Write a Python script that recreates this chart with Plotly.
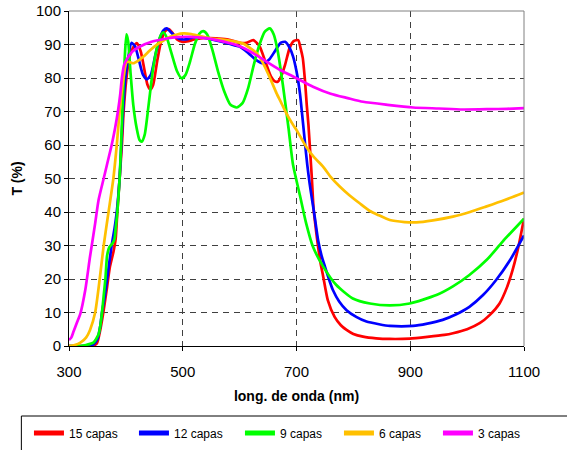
import plotly.graph_objects as go

# ---- data ----
wl_15 = [300, 320, 340, 349, 355, 361, 367, 372, 378, 382, 385, 389, 393, 396, 401, 406, 411, 419, 426, 432, 438, 443, 448, 455, 462, 469, 475, 482, 490, 500, 510, 520, 540, 560, 580, 600, 612, 624, 635, 645, 655, 662, 667, 673, 680, 688, 695, 703, 707, 711, 715, 718, 721, 724, 727, 730, 734, 738, 742, 747, 755, 767, 778, 788, 800, 817, 840, 864, 899, 930, 960, 975, 1000, 1022, 1040, 1057, 1070, 1080, 1090, 1100]
t_15 = [0, 0, 0, 0.8, 4.8, 10.7, 17.7, 23.7, 28, 32, 40, 50, 60, 70, 80, 86, 88.5, 90.4, 88, 83, 78, 76.6, 78, 85, 91, 94, 94.6, 93.5, 91.5, 90.8, 91, 91.5, 92, 91.8, 91.5, 90.5, 90.5, 91.3, 89.5, 85, 80.5, 79, 78.9, 80.5, 84, 89, 91, 91.3, 89, 86, 79, 72, 66, 58, 50, 41, 35, 29.6, 25, 20.7, 13.7, 8.7, 6.2, 4.8, 3.6, 2.8, 2.3, 2.1, 2.2, 2.7, 3.3, 3.8, 5.0, 6.8, 9.3, 12.7, 17.5, 22.7, 29.5, 38]

wl_12 = [300, 330, 343, 350, 355, 358, 363, 367, 375, 380, 384, 389, 392, 395, 399, 404, 410, 416, 422, 430, 437, 444, 452, 460, 466, 472, 480, 490, 500, 510, 520, 531, 550, 570, 590, 600, 615, 628, 641, 652, 662, 672, 680, 688, 694, 700, 706, 710, 715, 719, 723, 728, 732, 738, 744, 750, 757, 764, 775, 788, 805, 823, 845, 864, 905, 930, 957, 980, 1004, 1028, 1051, 1075, 1100]
t_12 = [0, 0, 0.5, 2, 6, 10, 15, 20, 30, 35, 40, 50, 60, 70, 80, 86, 90.5, 89.5, 86, 81, 79.6, 81, 87, 92, 94.2, 94.8, 93.5, 92, 91.5, 91.7, 92.2, 92.3, 91.5, 90.8, 89.8, 89.4, 87.5, 85.5, 84.4, 85.5, 88, 90.5, 90.8, 89, 86.4, 82, 75.5, 69, 60.5, 54, 48.6, 43, 38.6, 31.6, 27, 23.7, 20, 16.7, 13.3, 10.7, 8.7, 7.3, 6.5, 6.0, 6.0, 6.7, 7.8, 9.4, 11.7, 15.2, 19.7, 25.5, 33]

wl_9 = [300, 320, 330, 343, 352, 355, 358, 361, 364, 367, 371, 376, 380, 382, 385, 389, 392, 395, 398, 401, 404, 408, 413, 419, 424, 428, 433, 440, 448, 456, 462, 466, 472, 480, 490, 498, 505, 513, 521, 529, 536, 543, 552, 562, 573, 584, 595, 605, 615, 625, 635, 644, 653, 660, 667, 676, 686, 694, 706, 717, 729, 747, 770, 799, 829, 864, 899, 946, 975, 1004, 1035, 1062, 1100]
t_9 = [0, 0, 0.3, 1, 3.5, 6, 10, 15, 20, 27, 29.5, 30.5, 32, 35, 40, 50, 62, 75, 86, 93, 91, 82, 72, 65, 61.5, 61, 63, 72, 83, 90, 93, 93.6, 92, 87.5, 82, 79.9, 81, 85, 90, 93.2, 94, 93, 88.5, 82, 76, 72, 71.2, 72.5, 77, 84, 90, 93.8, 94.8, 93, 88, 78, 65, 54, 45, 36.6, 29.6, 23.7, 18.2, 14.2, 12.7, 12.1, 12.7, 15.2, 17.8, 21.2, 25.8, 31.1, 38]

wl_6 = [300, 310, 320, 330, 337, 346, 354, 361, 369.5, 378, 384, 389, 395, 402, 413, 422, 431, 442, 454, 466, 478, 490, 501, 515, 530, 550, 577, 595, 606, 618, 630, 640, 647, 656, 665, 672, 682, 694, 700, 717, 730, 747, 760, 776, 793, 811, 829, 845, 864, 890, 911, 940, 975, 1005, 1033, 1065, 1100]
t_6 = [0, 0.3, 1, 2.5, 4.8, 10, 20, 30, 40, 50, 60, 70, 79, 84.9, 84.4, 85.2, 86.4, 88.2, 89.9, 91.2, 92.3, 93, 93.3, 93.1, 92.5, 91.8, 91.3, 90.8, 90.3, 89, 87.4, 84.8, 82.4, 79, 75.4, 73, 69.5, 66, 64.5, 59.5, 56.5, 53.5, 50.5, 47.6, 45, 42.6, 40.3, 39, 37.6, 37, 36.9, 37.5, 38.6, 40, 41.6, 43.5, 45.8]

wl_3 = [300, 304, 308, 314, 320, 328.6, 337, 346, 352, 361, 368, 375, 381, 386, 390, 393, 397, 405, 412, 425, 445, 472, 490, 513, 540, 560, 580, 601, 625, 647, 671, 690, 706, 729, 760, 790, 817, 860, 905, 950, 992, 1040, 1070, 1100]
t_3 = [1.8, 2.5, 4.3, 7, 9.7, 16.7, 26.7, 36.6, 43.6, 50, 55, 60, 65, 70, 75, 80, 84, 86.5, 88, 89.4, 90.8, 91.8, 92.2, 92.3, 91.9, 91.3, 90.5, 89.4, 87.3, 84.9, 82.4, 80.8, 79.4, 77.4, 75.3, 74, 72.9, 72, 71.2, 70.9, 70.6, 70.7, 70.8, 71]

series_names = ["15 capas", "12 capas", "9 capas", "6 capas", "3 capas"]
series_x = [wl_15, wl_12, wl_9, wl_6, wl_3]
series_y = [t_15, t_12, t_9, t_6, t_3]
series_colors = ["#FF0000", "#0000FF", "#00FF00", "#FFC000", "#FF00FF"]
legend_widths = [60, 61, 54, 54, 54]

x_ticks = [300, 500, 700, 900, 1100]
y_ticks = list(range(0, 101, 10))

FONT = "Arial, Liberation Sans, sans-serif"

fig = go.Figure()
for name, xs, ys, col, lw in zip(series_names, series_x, series_y, series_colors, legend_widths):
    fig.add_trace(go.Scatter(
        x=xs, y=ys, name=name, mode="lines",
        line=dict(color=col, width=2.7, shape="spline", smoothing=0.6),
        legendwidth=lw,
    ))

fig.update_layout(
    width=567, height=450,
    margin=dict(l=69, r=43, t=11, b=104, autoexpand=False),
    paper_bgcolor="white", plot_bgcolor="white",
    font=dict(family=FONT, size=15, color="black"),
    showlegend=True,
    legend=dict(
        orientation="h", x=-0.088, xanchor="left", y=-0.26, yanchor="middle",
        bgcolor="rgba(0,0,0,0)", borderwidth=0,
        font=dict(family=FONT, size=12, color="black"),
        itemsizing="constant", tracegroupgap=0,
    ),
)

fig.update_xaxes(
    range=[300, 1100], tickmode="array", tickvals=x_ticks,
    ticktext=[str(v) for v in x_ticks],
    showline=True, linecolor="black", linewidth=1,
    ticks="outside", ticklen=4, tickcolor="black",
    ticklabelstandoff=8,
    showgrid=True, gridcolor="#404040", gridwidth=1, griddash="6px,5px",
    zeroline=False,
    title=dict(text="<b>long. de onda (nm)</b>", font=dict(size=14), standoff=12),
)
fig.update_yaxes(
    range=[0, 100], tickmode="array", tickvals=y_ticks,
    showline=True, linecolor="black", linewidth=1,
    ticks="outside", ticklen=4, tickcolor="black",
    showgrid=True, gridcolor="#404040", gridwidth=1, griddash="6px,5px",
    zeroline=False,
    title=dict(text="<b>T (%)</b>", font=dict(size=14), standoff=10),
)

# grey top/right frame of the plot area
fig.add_shape(type="line", xref="paper", yref="paper", x0=0, x1=1, y0=1, y1=1,
              line=dict(color="#808080", width=1))
fig.add_shape(type="line", xref="paper", yref="paper", x0=1, x1=1, y0=0, y1=1,
              line=dict(color="#808080", width=1))
# legend frame (runs off the right and bottom edges as in the reference)
fig.add_shape(type="rect", xref="paper", yref="paper",
              x0=-0.1047, x1=1.2, y0=-0.209, y1=-0.45,
              line=dict(color="black", width=1), fillcolor="rgba(0,0,0,0)")

fig.write_html("out.html")
